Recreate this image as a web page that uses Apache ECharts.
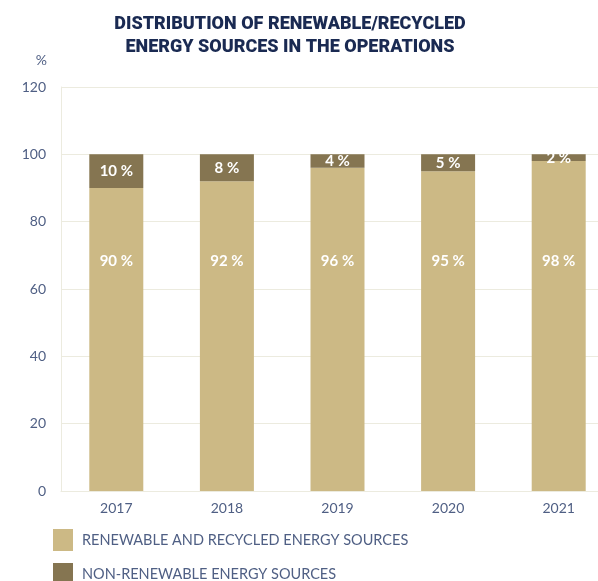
<!DOCTYPE html>
<html>
<head>
<meta charset="utf-8">
<script src="https://cdn.jsdelivr.net/npm/echarts@6/dist/echarts.min.js"></script>
<style>
  html, body { margin: 0; padding: 0; background: #ffffff; }
  #chart { width: 598px; height: 581px; }
</style>
</head>
<body>
<div id="chart"></div>
<script>
// Share of energy sources used in operations, by year
const years = ['2017', '2018', '2019', '2020', '2021'];
const renewable = [90, 92, 96, 95, 98];
const nonRenewable = [10, 8, 4, 5, 2];
const yTicks = { min: 0, max: 120, step: 20 };

const seriesNames = ['RENEWABLE AND RECYCLED ENERGY SOURCES', 'NON-RENEWABLE ENERGY SOURCES'];
const colors = ['#ccb985', '#857551'];
const textColor = '#4f5f84';
const lineColor = '#ecebdf';
const font = 'Lato, "Noto Sans", sans-serif';

const chart = echarts.init(document.getElementById('chart'), null, { renderer: 'canvas' });

const valueLabel = {
  show: true,
  color: '#ffffff',
  fontFamily: font,
  fontWeight: 'bold',
  fontSize: 15,
  formatter: p => p.value + ' %'
};

chart.setOption({
  animation: false,
  color: colors,
  title: {
    text: 'DISTRIBUTION OF RENEWABLE/RECYCLED\nENERGY SOURCES IN THE OPERATIONS',
    left: 285,
    top: 8,
    textAlign: 'center',
    textStyle: {
      color: '#1a2a52',
      fontFamily: 'Roboto, sans-serif',
      fontWeight: 900,
      fontSize: 18,
      lineHeight: 23
    }
  },
  legend: {
    orient: 'vertical',
    left: 53,
    top: 529,
    height: 70,
    padding: 0,
    itemWidth: 20,
    itemHeight: 22,
    itemGap: 12,
    icon: 'rect',
    textStyle: { color: textColor, fontFamily: font, fontSize: 14.5, padding: [2, 0, 0, 4] },
    data: seriesNames
  },
  grid: { left: 61, width: 553, top: 87, bottom: 90, containLabel: false, outerBoundsMode: 'none' },
  xAxis: {
    type: 'category',
    data: years,
    axisLine: { show: true, lineStyle: { color: lineColor, width: 1 } },
    axisTick: { show: false },
    axisLabel: { color: textColor, fontFamily: font, fontSize: 14, margin: 10 }
  },
  yAxis: {
    type: 'value',
    min: yTicks.min,
    max: yTicks.max,
    interval: yTicks.step,
    name: '%',
    nameGap: 20,
    nameTextStyle: { color: textColor, fontFamily: font, fontSize: 14, align: 'right', padding: [0, 14, 0, 0] },
    axisLine: { show: true, lineStyle: { color: lineColor, width: 1 } },
    axisTick: { show: false },
    axisLabel: { color: textColor, fontFamily: font, fontSize: 14, margin: 15 },
    splitLine: { show: true, lineStyle: { color: lineColor, width: 1 } }
  },
  series: [
    {
      name: seriesNames[0],
      type: 'bar',
      stack: 'total',
      barWidth: 54,
      data: renewable,
      label: Object.assign({}, valueLabel, { position: 'insideBottom', distance: 222 })
    },
    {
      name: seriesNames[1],
      type: 'bar',
      stack: 'total',
      barWidth: 54,
      data: nonRenewable,
      label: Object.assign({}, valueLabel, { position: 'inside' })
    }
  ]
});
</script>
</body>
</html>
